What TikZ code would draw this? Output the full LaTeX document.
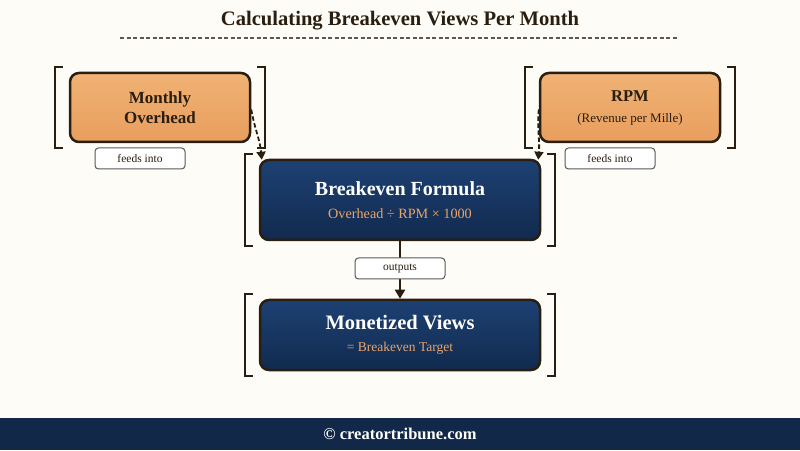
\documentclass[tikz,border=0pt]{standalone}
\usepackage{fontspec}
\setmainfont{Liberation Serif}
\usepackage{xcolor}
\usetikzlibrary{arrows.meta,positioning}
\definecolor{creambg}{HTML}{FEFCF7}
\definecolor{inkbrown}{HTML}{2A1E10}
\definecolor{peachtop}{HTML}{F0B273}
\definecolor{peachbot}{HTML}{E89E5E}
\definecolor{navytop}{HTML}{1D4173}
\definecolor{navybot}{HTML}{112A4E}
\definecolor{footnavy}{HTML}{112848}
\definecolor{formulaorange}{HTML}{E8A46C}

\begin{document}
\begin{tikzpicture}[
    x=1pt, y=1pt,
    inputbox/.style={draw=inkbrown, line width=2.5pt, rounded corners=9pt, top color=peachtop, bottom color=peachbot,
        minimum width=180pt, minimum height=69pt, align=center, text=inkbrown},
    calcbox/.style={draw=inkbrown, line width=2.5pt, rounded corners=9pt, top color=navytop, bottom color=navybot,
        minimum width=280pt, align=center, text=white},
    tagbox/.style={draw=gray!70!black, line width=1pt, fill=white, rounded corners=3.5pt, minimum width=90pt, minimum height=21pt,
        inner sep=1pt, font=\fontsize{11.5}{13}\selectfont, text=inkbrown},
    bracket/.style={draw=inkbrown, line width=2.2pt},
    flow/.style={draw=inkbrown, line width=2.2pt, -{Triangle[length=9pt,width=10pt]}},
    feed/.style={draw=inkbrown, line width=1.8pt, dash pattern=on 4.5pt off 2.5pt, -{Triangle[length=8pt,width=9pt]}}
]
% page and background
\fill[creambg] (0,0) rectangle (800,450);
\fill[footnavy] (0,0) rectangle (800,32);
\node[text=white, font=\bfseries\fontsize{16.5}{18}\selectfont] (foot) at (400,16) {© creatortribune.com};

% title
\node[text=inkbrown, font=\bfseries\fontsize{20.6}{22}\selectfont] (title) at (400,429) {Calculating Breakeven Views Per Month};
\draw[inkbrown!75, line width=1.2pt, dash pattern=on 4pt off 2.5pt] (120,412) -- (678,412);

% inputs
\node[inputbox, font=\bfseries\fontsize{17}{19.5}\selectfont] (over) at (160,342.5) {Monthly\\Overhead};
\node[inputbox] (rpm) at (630,342.5) {{\bfseries\fontsize{16.5}{19}\selectfont RPM}\\[9pt]{\fontsize{13}{14}\selectfont (Revenue per Mille)}};

% formula and result
\node[calcbox, minimum height=80pt] (form) at (400,250)
    {{\bfseries\fontsize{20}{22}\selectfont Breakeven Formula}\\[11pt]{\color{formulaorange}\fontsize{14.2}{15}\selectfont Overhead ÷ RPM × 1000}};
\node[calcbox, minimum height=70pt] (views) at (400,115)
    {{\bfseries\fontsize{20.5}{22}\selectfont Monetized Views}\\[10pt]{\color{formulaorange}\fontsize{13.5}{15}\selectfont = Breakeven Target}};

% brackets
\foreach \n in {over,rpm,form,views}{
    \draw[bracket] ([shift={(-6pt,5pt)}]\n.north west) -- ++(-8pt,0) |- ([shift={(-6pt,-5pt)}]\n.south west);
    \draw[bracket] ([shift={(6pt,5pt)}]\n.north east) -- ++(8pt,0) |- ([shift={(6pt,-5pt)}]\n.south east);
}

% connectors
\draw[feed] ([yshift=-2pt]over.east) to[out=-80,in=95] ([xshift=3pt,yshift=-1pt]form.north west);
\draw[feed] ([yshift=-2pt]rpm.west) to[out=-95,in=85] ([xshift=-3pt,yshift=-1pt]form.north east);
\draw[flow] (form.south) -- (views.north);

% labels
\node[tagbox] (tag1) at (140,291.5) {feeds into};
\node[tagbox] (tag2) at (610,291.5) {feeds into};
\node[tagbox] (tag3) at (400,181.5) {outputs};
\end{tikzpicture}
\end{document}
